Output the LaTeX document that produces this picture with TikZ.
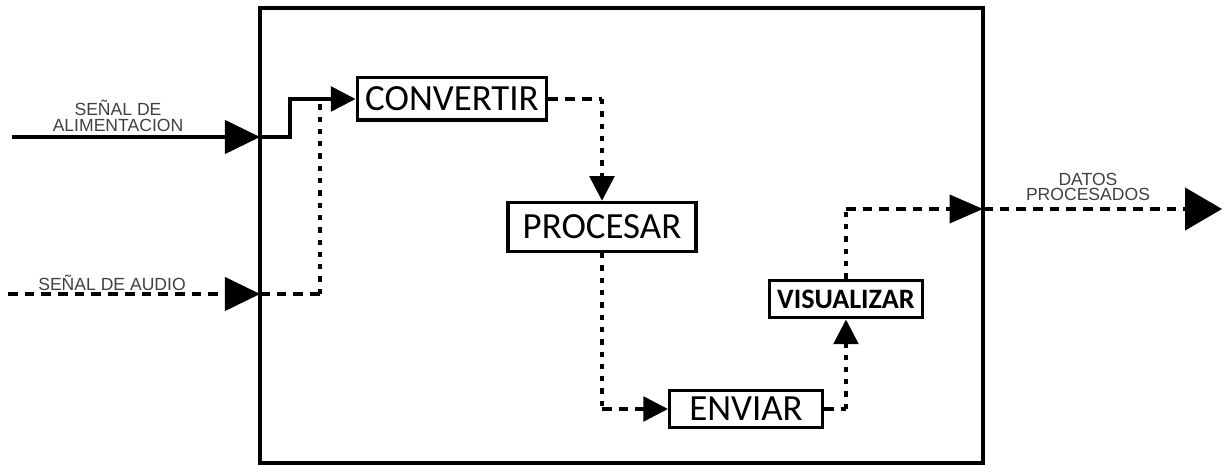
\documentclass[tikz,border=0pt]{standalone}
\usepackage{fontspec}
\setmainfont{Carlito}
\newfontfamily\signalfont{Liberation Sans}
\usepackage{tikz}
\usetikzlibrary{arrows.meta, positioning}

\tikzset{
  block/.style={draw, line width=1.8pt, inner sep=0pt, font=\fontsize{21}{24}\selectfont},
  signal/.style={text=black!75, font=\signalfont\fontsize{10}{11}\selectfont, align=center},
  solidline/.style={line width=2pt},
  dashline/.style={line width=2pt, dash pattern=on 5.5pt off 4pt},
  dotline/.style={line width=2pt, dash pattern=on 3pt off 4pt},
  bigtip/.style={-{Triangle[length=20pt,width=19pt]}},
  midtip/.style={-{Triangle[length=19pt,width=16pt]}},
  outtip/.style={-{Triangle[length=21pt,width=24pt]}},
  smalltip/.style={-{Triangle[length=14pt,width=14pt]}}
}

\begin{document}
\begin{tikzpicture}[x=0.02cm, y=-0.02cm]
    \useasboundingbox (0,0) rectangle (1225,465);

    % Frame
    \draw[line width=2.2pt] (260,8) rectangle (983,463);

    % Blocks
    \node[block, minimum width=108pt, minimum height=24pt] (conv) at (452,99) {CONVERTIR};
    \node[block, minimum width=107pt, minimum height=28pt] (proc) at (602,227) {PROCESAR};
    \node[block, minimum width=87pt, minimum height=21pt] (envi) at (746,409) {ENVIAR};
    \node[block, minimum width=87pt, minimum height=21.5pt, font=\fontsize{16}{18}\selectfont\bfseries] (visu) at (846,299) {VISUALIZAR};

    % Points on the frame and corners
    \coordinate (alimin) at (12,137);
    \coordinate (alimedge) at (260,137);
    \coordinate (alimstep) at (290,137);
    \coordinate (alimup) at (290,99);
    \coordinate (audioin) at (8,294);
    \coordinate (audioedge) at (260,294);
    \coordinate (audiocorner) at (320,294);
    \coordinate (audiojoin) at (320,99);
    \coordinate (convcorner) at (602,99);
    \coordinate (proccorner) at (602,409);
    \coordinate (envicorner) at (846,409);
    \coordinate (visucorner) at (846,209);
    \coordinate (outedge) at (983,209);
    \coordinate (outend) at (1222,209);

    % Inputs
    \draw[solidline, bigtip] (alimin) -- (alimedge);
    \draw[solidline, smalltip] (alimedge) -- (alimstep) -- (alimup) -- (conv.west);
    \draw[dashline, bigtip] (audioin) -- (audioedge);
    \draw[dashline] (audioedge) -- (audiocorner);
    \draw[dotline] (audiocorner) -- (audiojoin);

    % Flow between blocks
    \draw[dashline] (conv.east) -- (convcorner);
    \draw[dotline, smalltip] (convcorner) -- (proc.north);
    \draw[dotline] (proc.south) -- (proccorner);
    \draw[dashline, smalltip] (proccorner) -- (envi.west);
    \draw[dashline] (envi.east) -- (envicorner);
    \draw[dotline, smalltip] (envicorner) -- (visu.south);
    \draw[dotline] (visu.north) -- (visucorner);
    \draw[dashline, midtip] (visucorner) -- (outedge);
    \draw[dashline, outtip] (outedge) -- (outend);

    % Labels
    \node[signal] (alimlabel) at (118,116) {SEÑAL DE\\[-2pt]ALIMENTACION};
    \node[signal] (audiolabel) at (112,283) {SEÑAL DE AUDIO};
    \node[signal] (outlabel) at (1088,187) {DATOS\\[-2pt]PROCESADOS};
\end{tikzpicture}
\end{document}
